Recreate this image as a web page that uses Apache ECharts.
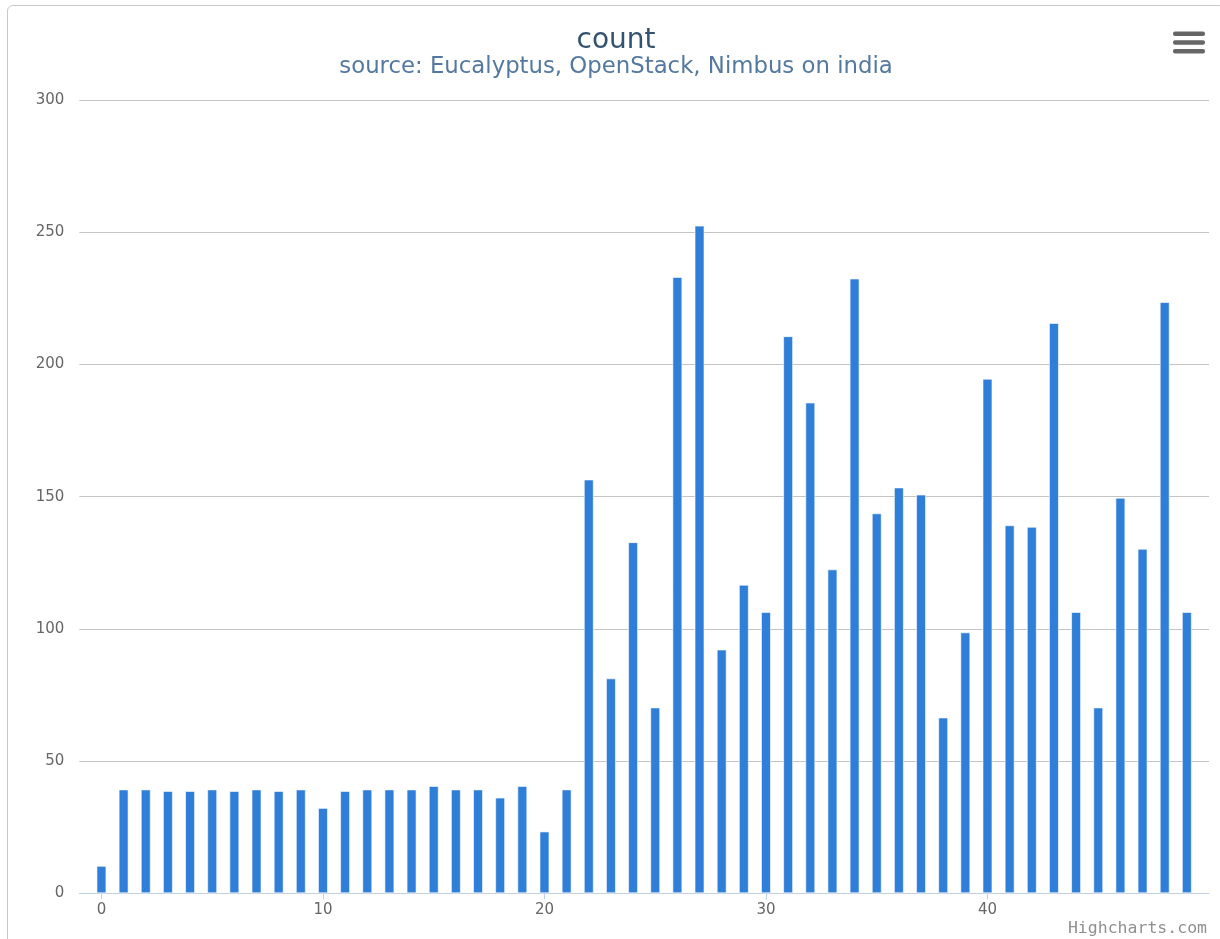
<!DOCTYPE html>
<html>
<head>
<meta charset="utf-8">
<title>count</title>
<script src="https://cdn.jsdelivr.net/npm/echarts@6/dist/echarts.min.js"></script>
<style>
	html, body { margin: 0; padding: 0; background: #fff; overflow: hidden; }
	#chart {
		position: absolute;
		left: 7px;
		top: 5px;
		width: 1218px;
		height: 950px;
		box-sizing: border-box;
		border: 1px solid #c8c8c8;
		border-radius: 6px;
	}
</style>
</head>
<body>
<div id="chart"></div>
<script>
	/* data */
	var xCategories = [0, 1, 2, 3, 4, 5, 6, 7, 8, 9,
		10, 11, 12, 13, 14, 15, 16, 17, 18, 19,
		20, 21, 22, 23, 24, 25, 26, 27, 28, 29,
		30, 31, 32, 33, 34, 35, 36, 37, 38, 39,
		40, 41, 42, 43, 44, 45, 46, 47, 48, 49];
	var counts = [10.4, 39.3, 39.3, 38.7, 38.7, 39.3, 38.7, 39.3, 38.7, 39.3,
		32.3, 38.7, 39.3, 39.3, 39.3, 40.6, 39.3, 39.3, 36.2, 40.6,
		23.4, 39.3, 156.5, 81.3, 132.8, 70.3, 233.1, 252.5, 92.2, 116.7,
		106.4, 210.7, 185.6, 122.5, 232.5, 143.7, 153.5, 150.8, 66.5, 98.7,
		194.6, 139.2, 138.6, 215.7, 106.4, 70.3, 149.6, 130.3, 223.6, 106.4];
	var yTicks = [0, 50, 100, 150, 200, 250, 300];
	var xLabelStep = 10;

	/* x axis runs one slot past the data on both sides */
	var axisData = ['-1'].concat(xCategories.map(String), ['50']);
	var barData = [null].concat(counts, [null]);

	function isLabelled(index) {
		return index >= 1 && index <= xCategories.length && xCategories[index - 1] % xLabelStep === 0;
	}

	var font = 'DejaVu Sans, sans-serif';

	var option = {
		animation: false,
		title: [{
			text: 'count',
			left: 'center',
			top: 21,
			padding: 0,
			textStyle: {
				fontFamily: font,
				fontSize: 28,
				lineHeight: 28,
				fontWeight: 'normal',
				color: '#34536f'
			}
		}, {
			text: 'source: Eucalyptus, OpenStack, Nimbus on india',
			left: 'center',
			top: 50,
			padding: 0,
			textStyle: {
				fontFamily: font,
				fontSize: 22.8,
				lineHeight: 23,
				fontWeight: 'normal',
				color: '#5479a0'
			}
		}],
		grid: {
			left: 71.3,
			right: 15,
			top: 94,
			bottom: 60.7,
			containLabel: false
		},
		xAxis: {
			type: 'category',
			data: axisData,
			boundaryGap: false,
			axisLine: {
				lineStyle: { color: '#C0D0E0', width: 1 }
			},
			axisTick: {
				interval: isLabelled,
				length: 6,
				lineStyle: { color: '#C0D0E0' }
			},
			axisLabel: {
				interval: isLabelled,
				margin: 9,
				fontFamily: font,
				fontSize: 15,
				color: '#666'
			},
			splitLine: { show: false }
		},
		yAxis: {
			type: 'value',
			min: yTicks[0],
			max: yTicks[yTicks.length - 1],
			interval: 50,
			axisLine: { show: false },
			axisTick: { show: false },
			axisLabel: {
				margin: 15,
				fontFamily: font,
				fontSize: 15,
				color: '#666'
			},
			splitLine: {
				lineStyle: { color: '#C4C4C4', width: 1.2 }
			}
		},
		series: [{
			name: 'count',
			type: 'bar',
			data: barData,
			barWidth: 10,
			itemStyle: {
				color: '#2f7ed8',
				borderColor: 'rgba(255,255,255,0.6)',
				borderWidth: 1
			}
		}],
		graphic: [
			/* export menu icon */
			{ type: 'rect', shape: { x: 1165, y: 25.5, width: 32, height: 4.5, r: 2 }, style: { fill: '#666' } },
			{ type: 'rect', shape: { x: 1165, y: 34.2, width: 32, height: 4.5, r: 2 }, style: { fill: '#666' } },
			{ type: 'rect', shape: { x: 1165, y: 42.9, width: 32, height: 4.5, r: 2 }, style: { fill: '#666' } },
			/* credits */
			{
				type: 'text',
				right: 17,
				top: 914,
				style: {
					text: 'Highcharts.com',
					font: '16.5px "DejaVu Sans Mono", monospace',
					fill: '#909090'
				}
			}
		]
	};

	var chart = echarts.init(document.getElementById('chart'));
	chart.setOption(option);
</script>
</body>
</html>
